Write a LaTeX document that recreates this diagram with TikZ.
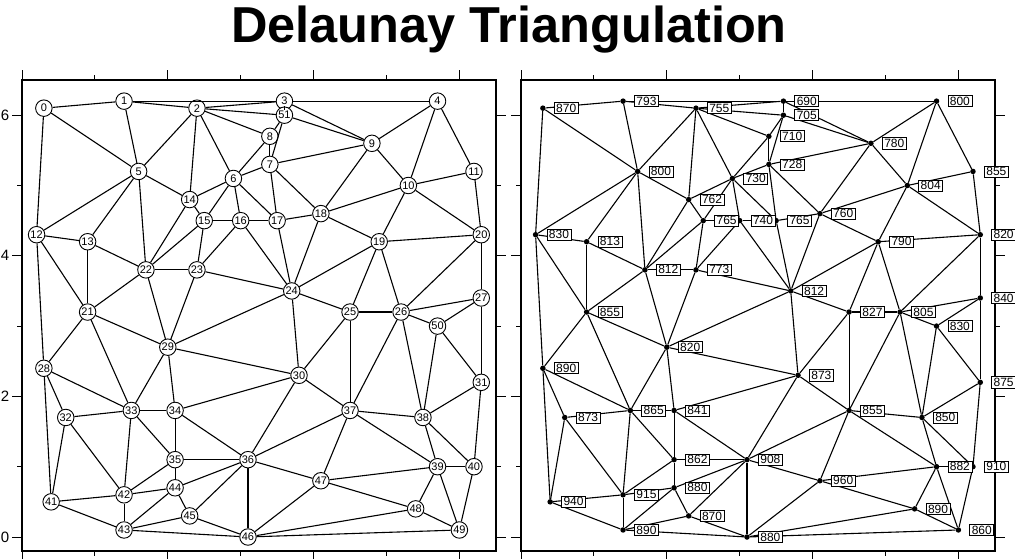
\documentclass[tikz,border=0pt]{standalone}
\usepackage{fontspec}
\setmainfont{Liberation Sans}
% sites: number / x / y / elevation
\def\sites{0/0.3/6.1/870,1/1.4/6.2/793,2/2.4/6.1/755,3/3.6/6.2/690,4/5.7/6.2/800,%
5/1.6/5.2/800,6/2.9/5.1/730,7/3.4/5.3/728,8/3.4/5.7/710,9/4.8/5.6/780,%
10/5.3/5.0/804,11/6.2/5.2/855,12/0.2/4.3/830,13/0.9/4.2/813,14/2.3/4.8/762,%
15/2.5/4.5/765,16/3.0/4.5/740,17/3.5/4.5/765,18/4.1/4.6/760,19/4.9/4.2/790,%
20/6.3/4.3/820,21/0.9/3.2/855,22/1.7/3.8/812,23/2.4/3.8/773,24/3.7/3.5/812,%
25/4.5/3.2/827,26/5.2/3.2/805,27/6.3/3.4/840,28/0.3/2.4/890,29/2.0/2.7/820,%
30/3.8/2.3/873,31/6.3/2.2/875,32/0.6/1.7/873,33/1.5/1.8/865,34/2.1/1.8/841,%
35/2.1/1.1/862,36/3.1/1.1/908,37/4.5/1.8/855,38/5.5/1.7/850,39/5.7/1.0/882,%
40/6.2/1.0/910,41/0.4/0.5/940,42/1.4/0.6/915,43/1.4/0.1/890,44/2.1/0.7/880,%
45/2.3/0.3/870,46/3.1/0.0/880,47/4.1/0.8/960,48/5.4/0.4/890,49/6.0/0.1/860,%
50/5.7/3.0/830,51/3.6/6.0/705}
% triangle edges
\def\links{0/1,0/5,0/12,1/2,1/3,1/5,2/3,2/5,2/6,2/8,2/14,2/51,3/4,3/9,3/51,%
4/9,4/10,4/11,5/12,5/13,5/14,5/22,6/7,6/8,6/14,6/15,6/16,6/17,7/8,7/9,7/17,%
7/18,7/51,8/51,9/10,9/18,9/51,10/11,10/18,10/19,10/20,11/20,12/13,12/21,%
12/28,13/21,13/22,14/15,14/22,15/16,15/22,15/23,16/17,16/23,16/24,17/18,%
17/24,18/19,18/24,19/20,19/24,19/25,19/26,20/26,20/27,21/22,21/28,21/29,%
21/33,22/23,22/29,23/24,23/29,24/25,24/29,24/30,25/26,25/30,25/37,26/27,%
26/37,26/38,26/50,27/31,27/50,28/32,28/33,28/41,29/30,29/33,29/34,30/34,%
30/36,30/37,31/38,31/40,31/50,32/33,32/41,32/42,33/34,33/35,33/42,34/35,%
34/36,35/36,35/42,35/44,36/37,36/44,36/45,36/46,36/47,37/38,37/39,37/47,%
38/39,38/40,38/50,39/40,39/47,39/48,39/49,40/49,41/42,41/43,42/43,42/44,%
43/44,43/45,43/46,44/45,45/46,46/47,46/48,46/49,47/48,48/49}
\newcommand{\gmtframe}{%
  \draw[frame] (0,-0.2) rectangle (6.5,6.5);
  \foreach \t in {0,...,6}{
    \pgfmathsetmacro\len{isodd(\t)?5:10}
    \draw[tick] (\t,-0.2) -- ++(0,-\len pt) (\t,6.5) -- ++(0,\len pt)
                (0,\t) -- ++(-\len pt,0) (6.5,\t) -- ++(\len pt,0);
  }}
\begin{document}
\begin{tikzpicture}[x=1pt,y=1pt,
    frame/.style={line width=2.6pt},
    tick/.style={line width=1pt},
    link/.style={line width=1.1pt},
    site/.style={circle,draw,line width=0.9pt,fill=white,inner sep=0pt,minimum size=16.5pt,font=\fontsize{11}{12}\selectfont},
    dot/.style={circle,fill,inner sep=0pt,minimum size=5.5pt},
    elev/.style={draw,line width=0.7pt,fill=white,anchor=west,inner xsep=2pt,inner ysep=1.3pt,font=\fontsize{12}{13}\selectfont}]
\useasboundingbox (0,0) rectangle (1015,558);
\node[anchor=base,font=\fontsize{50.5}{55}\selectfont\bfseries] (title) at (509,515) {Delaunay Triangulation};
% left: site numbers
\begin{scope}[shift={(22pt,21pt)},x=72.9pt,y=70.3pt]
  \gmtframe
  \foreach \v in {0,2,4,6}
    \node[anchor=east,inner sep=0pt,font=\fontsize{15}{16}\selectfont] (ylab\v) at ([xshift=-12.5pt]0,\v) {\v};
  \foreach \i/\x/\y/\z in \sites
    \node[site] (n\i) at (\x,\y) {\i};
  \foreach \a/\b in \links
    \draw[link] (n\a) -- (n\b);
\end{scope}
% right: elevations
\begin{scope}[shift={(521pt,21pt)},x=72.9pt,y=70.3pt]
  \gmtframe
  \foreach \i/\x/\y/\z in \sites
    \node[dot] (d\i) at (\x,\y) {};
  \foreach \a/\b in \links
    \draw[link] (d\a) -- (d\b);
  \foreach \i/\x/\y/\z in \sites
    \node[elev] (e\i) at ([xshift=11pt]d\i.center) {\z};
\end{scope}
\end{tikzpicture}
\end{document}
